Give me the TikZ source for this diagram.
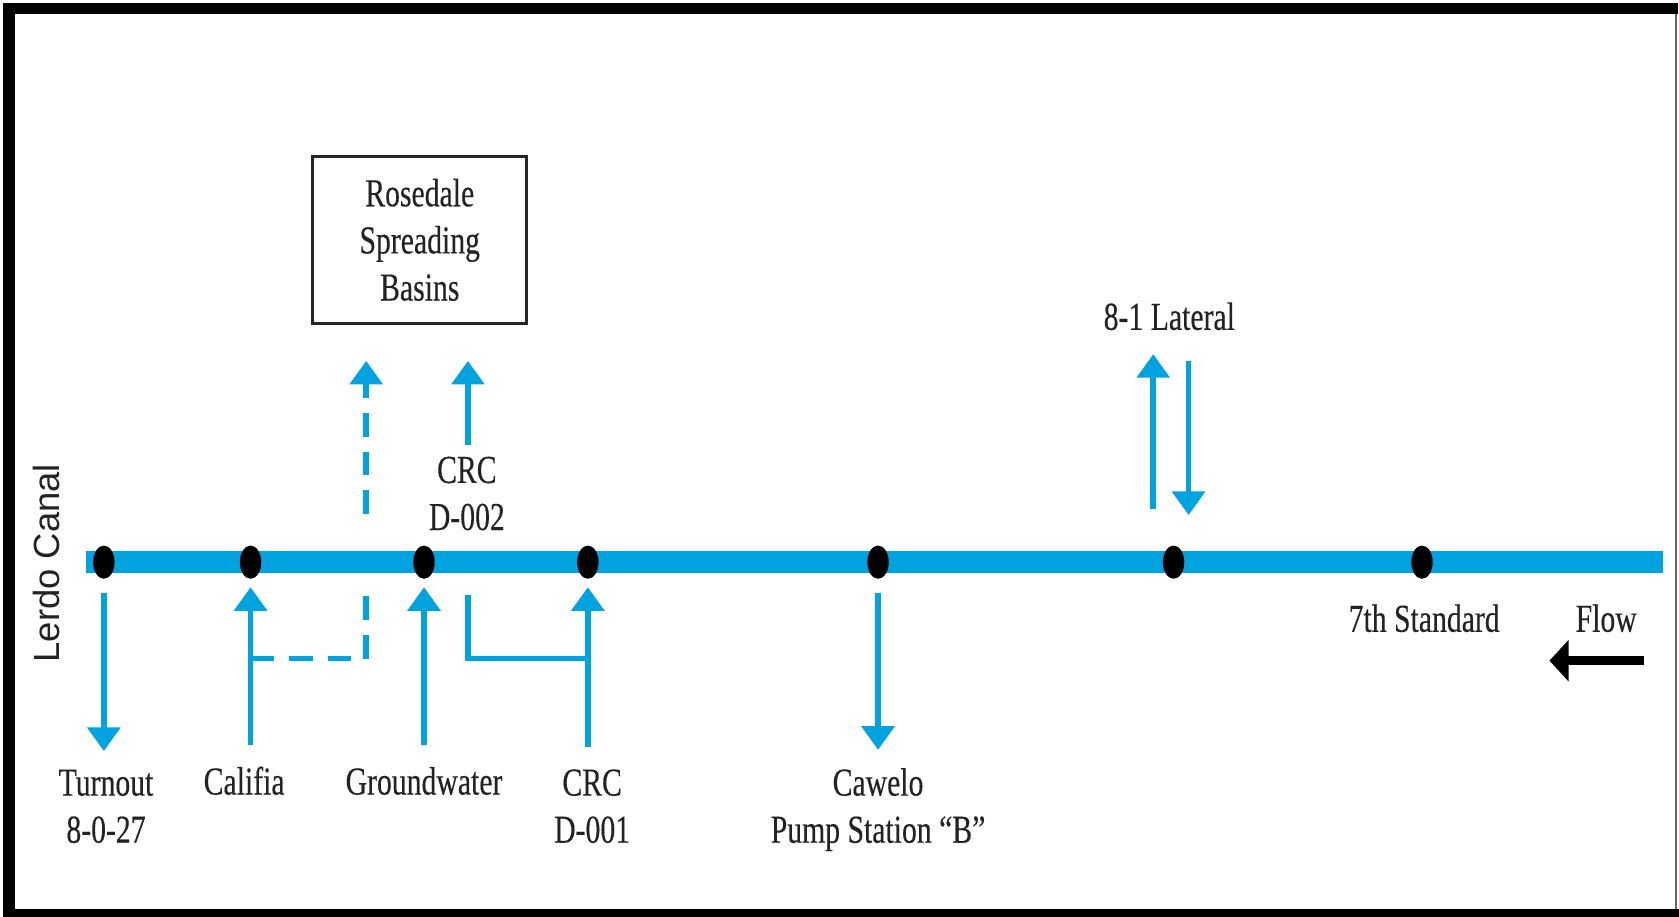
\documentclass[tikz,border=0pt]{standalone}
\usepackage{fontspec}
\setmainfont{Liberation Serif}
\newfontfamily\labfont[FakeStretch=0.75,FakeBold=0.3]{Liberation Serif}
\newfontfamily\sansfont{Liberation Sans}
\usetikzlibrary{arrows.meta,shapes.geometric}
\definecolor{canalblue}{RGB}{0,163,224}
\definecolor{txt}{RGB}{35,35,35}
\tikzset{
  lab/.style={font=\labfont\fontsize{18.5}{22}\selectfont, text=txt, align=center, inner sep=0pt},
  dotst/.style={ellipse, fill=black, minimum width=10pt, minimum height=15.5pt, inner sep=0pt},
  canalst/.style={line width=10.5pt, canalblue},
  barrow/.style={line width=2.6pt, canalblue, -{Triangle[width=15pt,length=11pt]}},
  bline/.style={line width=2.6pt, canalblue},
  dline/.style={line width=2.6pt, canalblue, dash pattern=on 11pt off 7pt},
  darrow/.style={dline, -{Triangle[width=15pt,length=11pt]}},
  flowst/.style={line width=4pt, black, -{Triangle[width=19pt,length=9pt]}},
  boxst/.style={lab, draw=black!85, line width=1.3pt, minimum width=100pt, minimum height=77.75pt},
}
\begin{document}
\begin{tikzpicture}[x=0.5pt,y=-0.5pt]
\useasboundingbox (0,0) rectangle (1568,856);
% frame
\fill[black] (3,3) rectangle (1567,13);
\fill[black] (3,3) rectangle (14,856);
\fill[black] (3,849) rectangle (1568,856);
\draw[black!60, line width=0.8pt] (1565,13) -- (1565,849);

% canal
\coordinate (cw) at (80,525);
\coordinate (ce) at (1553,525);
\draw[canalst] (cw) -- (ce);

% dots
\node[dotst] (d1) at (97,525) {};
\node[dotst] (d2) at (234,525) {};
\node[dotst] (d3) at (396,525) {};
\node[dotst] (d4) at (549,525) {};
\node[dotst] (d5) at (820,525) {};
\node[dotst] (d6) at (1096,525) {};
\node[dotst] (d7) at (1328,525) {};

% box
\node[boxst] (basins) at (392,224) {Rosedale\\Spreading\\Basins};

% labels (base anchor = baseline of last line)
\node[lab, anchor=base] (turnout) at (99,787) {Turnout\\8-0-27};
\node[lab, anchor=base] (califia) at (228,742) {Califia};
\node[lab, anchor=base] (ground) at (396,742) {Groundwater};
\node[lab, anchor=base] (crc1) at (553,787) {CRC\\D-001};
\node[lab, anchor=base] (cawelo) at (820,787) {Cawelo\\Pump Station “B”};
\node[lab, anchor=base] (seventh) at (1330,590) {7th Standard};
\node[lab, anchor=base] (flowlbl) at (1500,590) {Flow};
\node[lab, anchor=base] (lateral) at (1092,308) {8-1 Lateral};
\node[lab, anchor=base] (crc2) at (436,495) {CRC\\D-002};
\node[font=\sansfont\fontsize{17}{20}\selectfont, text=txt, rotate=90, inner sep=0pt] (lerdo) at (43,526) {Lerdo Canal};

% outflows down
\draw[barrow, shorten <=6.25pt, shorten >=8.5pt] (d1.south) -- (d1 |- turnout.north);
\draw[barrow, shorten <=6.25pt, shorten >=8.35pt] (d5.south) -- (d5 |- cawelo.north);

% inflows up
\draw[barrow, shorten <=10pt, shorten >=3.75pt] (d2 |- califia.north) -- (d2.south);
\draw[barrow, shorten <=10pt, shorten >=3.75pt] (d3 |- ground.north) -- (d3.south);
\draw[barrow, shorten <=10.25pt, shorten >=3.75pt] (d4 |- crc1.north) -- (d4.south);

% CRC D-002 to basins
\coordinate (crcx) at (437,0);
\draw[barrow, shorten <=5.25pt, shorten >=17pt] (crcx |- crc2.north) -- (crcx |- basins.south);

% dashed Califia route to basins
\coordinate (j1) at (234,615);
\coordinate (j2) at (342,615);
\coordinate (j2top) at (342,553);
\draw[dline] (j1) -- (j2) -- (j2top);
\coordinate (dup) at (342,480);
\draw[darrow, shorten >=17pt] (dup) -- (dup |- basins.south);

% solid bracket CRC D-001 / D-002
\coordinate (b1) at (437,556);
\coordinate (j3) at (549,615);
\draw[bline] (b1) |- (j3);

% 8-1 Lateral
\coordinate (lu) at (1077,475);
\draw[barrow, shorten >=11pt] (lu) -- (lu |- lateral.south);
\coordinate (ld) at (1110,481);
\draw[barrow, shorten <=14pt] (ld |- lateral.south) -- (ld);

% flow direction
\coordinate (fs) at (1535,617);
\coordinate (fe) at (1447,617);
\draw[flowst] (fs) -- (fe);
\end{tikzpicture}
\end{document}
